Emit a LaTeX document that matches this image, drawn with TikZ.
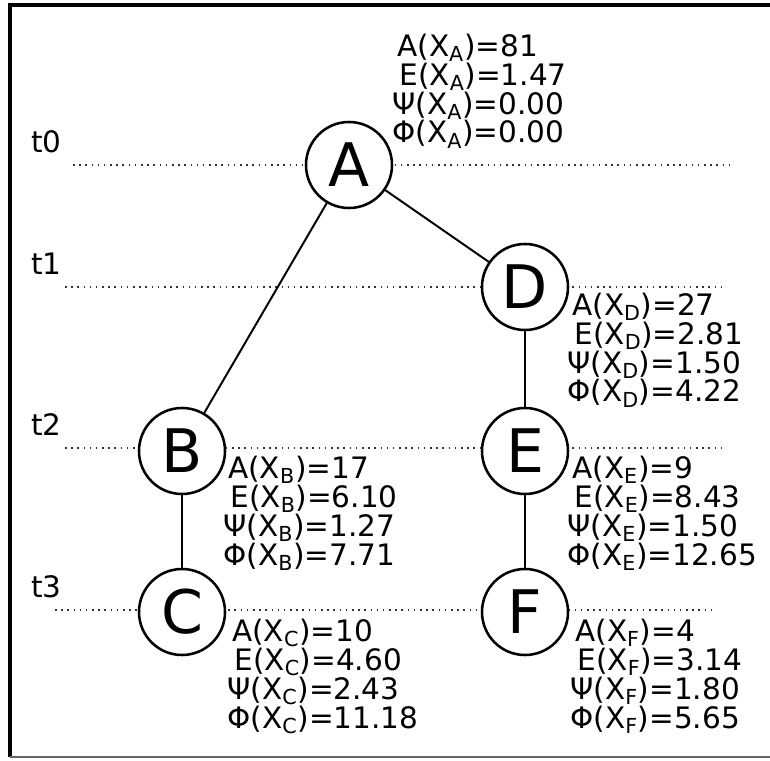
\documentclass[tikz,border=0pt]{standalone}
\usepackage{fontspec}
\setmainfont{DejaVu Sans}
\newcommand{\stats}[5]{A(X\textsubscript{#1})=#2\\\hspace*{1.5pt}E(X\textsubscript{#1})=#3\\\hspace*{-3.5pt}Ψ(X\textsubscript{#1})=#4\\\hspace*{-3.5pt}Φ(X\textsubscript{#1})=#5}
\begin{document}
\begin{tikzpicture}[x=0.025cm, y=-0.025cm,
	state/.style={circle, draw, line width=1.8pt, fill=white, minimum size=2.15cm, inner sep=0pt, font=\fontsize{42.7}{44}\selectfont},
	info/.style={anchor=base west, align=left, inner sep=0pt, font=\fontsize{21}{20.6}\selectfont},
	level/.style={dash pattern=on 1.1pt off 3.3pt, line width=1.1pt, black!80},
	link/.style={line width=1.4pt}]
	\useasboundingbox (0,0) rectangle (770,761);
	
	% Frame
	\draw[line width=2.2pt] (10,757) -- (10,5) -- (770,5);
	\draw[line width=0.9pt, black!60] (10,757) -- (770,757);
	
	% Time levels
	\foreach \y/\xa/\xb/\name in {165/73/732/t0, 287/65/723/t1, 448/65/723/t2, 610/55/712/t3} {
		\draw[level] (\xa,\y) -- (\xb,\y);
		\node[info] (\name) at (31,\y-12.5) {\name};
	}
	
	% States
	\node[state] (A) at (349,165) {A};
	\node[state] (D) at (525,287) {D};
	\node[state] (B) at (182,451) {B};
	\node[state] (E) at (525,451) {E};
	\node[state] (C) at (182,612) {C};
	\node[state] (F) at (525,612) {F};
	
	% Transitions
	\draw[link] (A) -- (B);
	\draw[link] (A) -- (D);
	\draw[link] (D) -- (E);
	\draw[link] (B) -- (C);
	\draw[link] (E) -- (F);
	
	% Values at each state (placed by the last line)
	\node[info] (infoA) at (397,143) {\stats{A}{81}{1.47}{0.00}{0.00}};
	\node[info] (infoD) at (572,402) {\stats{D}{27}{2.81}{1.50}{4.22}};
	\node[info] (infoB) at (228,565) {\stats{B}{17}{6.10}{1.27}{7.71}};
	\node[info] (infoE) at (572,565) {\stats{E}{9}{8.43}{1.50}{12.65}};
	\node[info] (infoC) at (232,728) {\stats{C}{10}{4.60}{2.43}{11.18}};
	\node[info] (infoF) at (575,728) {\stats{F}{4}{3.14}{1.80}{5.65}};
\end{tikzpicture}
\end{document}
